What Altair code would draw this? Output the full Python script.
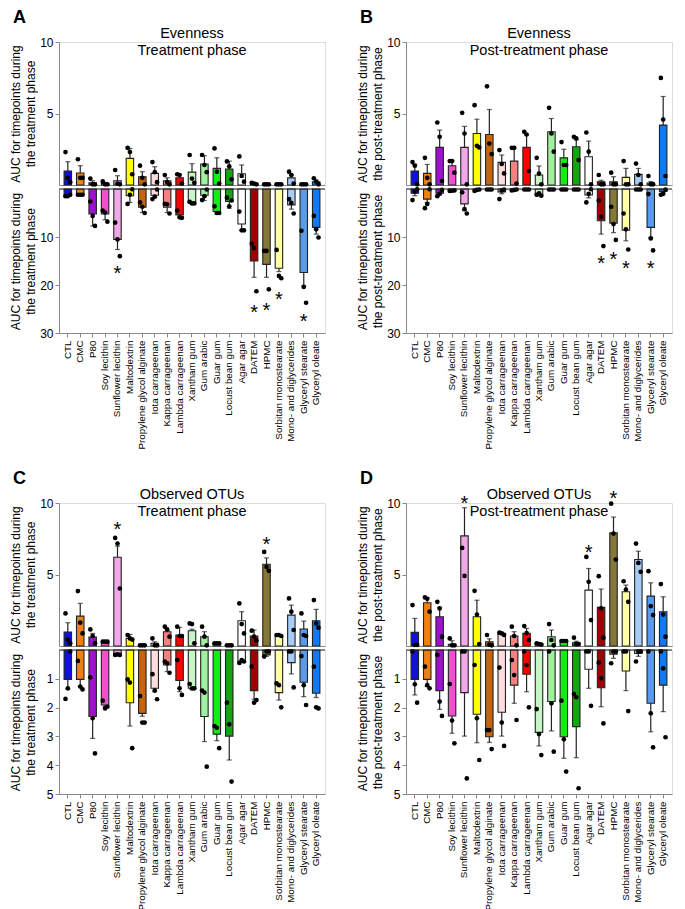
import altair as alt
import pandas as pd

CATS = ["CTL", "CMC", "P80", "Soy lecithin", "Sunflower lecithin", "Maltodextrin",
        "Propylene glycol alginate", "Iota carrageenan", "Kappa carrageenan",
        "Lambda carrageenan", "Xantham gum", "Gum arabic", "Guar gum", "Locust bean gum",
        "Agar agar", "DATEM", "HPMC", "Sorbitan monostearate", "Mono- and diglycerides",
        "Glyceryl stearate", "Glyceryl oleate"]
COLORS = ["#1010E0", "#F08010", "#A010D0", "#F050D0", "#F0A8E8", "#FFFF00", "#C86410",
          "#FCDCDC", "#F48080", "#FF0000", "#C8F5C8", "#A0F0A0", "#10F010", "#10A810",
          "#FFFFFF", "#A00000", "#857838", "#FFFFA8", "#A8CCF4", "#5A9AEA", "#1478F0"]

# ---------------- Panel A : Evenness, treatment phase
A_UP_MEAN = [0.98, 0.84, 0.15, 0.1, 0.3, 1.86, 0.58, 0.81, 0.3, 0.51, 0.9, 1.47, 1.16, 1.12, 0.79, 0.1, 0.05, 0.05, 0.5, 0.05, 0.23]
A_UP_SEM = [0.65, 0.51, 0.15, 0.08, 0.35, 0.7, 0.35, 0.47, 0.2, 0.23, 0.59, 0.58, 0.74, 0.55, 0.61, 0.03, 0.0, 0.0, 0.2, 0.0, 0.1]
A_UP_PTS = [[2.3, 0.5, 0.2], [1.8, 0.5, 0.5], [0.45, 0.05, 0.05], [0.25, 0.05, 0.05], [1.05, 0.1, 0.05],
            [2.6, 2.3, 0.75], [1.35, 0.5, 0.05], [1.6, 0.9, 0.2], [0.7, 0.2, 0.05], [0.75, 0.7, 0.1],
            [2.1, 0.45, 0.15], [2.1, 1.4, 0.9], [2.56, 0.93, 0.1], [1.65, 1.3, 0.4], [2.0, 0.63, 0.23],
            [0.15, 0.1, 0.05], [0.05, 0.05, 0.05], [0.05, 0.05, 0.05], [0.93, 0.7, 0.1], [0.05, 0.05, 0.05],
            [0.47, 0.23, 0.05]]
A_LO_MEAN = [1.4, 1.2, 5.2, 5.2, 10.5, 1.4, 3.8, 1.3, 3.8, 5.4, 2.8, 1.3, 4.7, 2.6, 7.3, 15.0, 15.7, 16.5, 3.3, 17.4, 8.0]
A_LO_SEM = [0.1, 0.05, 2.5, 1.2, 2.1, 1.4, 1.1, 0.5, 1.1, 0.45, 0.2, 1.1, 0.5, 1.4, 1.3, 3.4, 2.7, 0.7, 0.9, 2.8, 1.4]
A_LO_PTS = [[1.5, 1.5, 1.2], [1.2, 1.2, 1.2], [2.6, 5.6, 7.7], [4.5, 4.9, 6.8], [7.0, 10.5, 14.0],
            [3.1, 1.2, 0.05], [2.8, 3.7, 5.0], [2.1, 1.6, 0.1], [3.1, 3.2, 5.1], [4.5, 5.9, 6.0],
            [2.7, 3.0, 3.0], [2.3, 1.5, 0.1], [3.6, 5.0, 5.0], [1.8, 3.6, 2.4], [4.7, 8.6, 8.6],
            [11.4, 12.3, 21.3], [12.9, 12.9, 20.9], [12.7, 18.1, 18.6], [2.1, 2.9, 5.1], [8.7, 20.4, 23.7],
            [5.6, 8.4, 10.1]]
A_UP_STAR_CATS, A_UP_STAR_POS = [], []
A_LO_STAR_CATS = ["Sunflower lecithin", "DATEM", "HPMC", "Sorbitan monostearate", "Glyceryl stearate"]
A_LO_STAR_POS = [16.7, 24.8, 24.4, 22.1, 26.7]

# ---------------- Panel B : Evenness, post-treatment phase
B_UP_MEAN = [0.98, 0.81, 2.63, 1.35, 2.63, 3.6, 3.53, 1.58, 1.67, 2.63, 0.7, 3.72, 1.9, 2.67, 1.98, 0.23, 0.23, 0.53, 0.74, 0.14, 4.19]
B_UP_SEM = [0.46, 0.63, 1.21, 0.32, 1.47, 1.0, 1.75, 0.52, 0.89, 0.87, 0.63, 0.93, 0.6, 0.5, 1.09, 0.1, 0.35, 0.63, 0.42, 0.1, 2.0]
B_UP_PTS = [[1.6, 1.35, 0.05], [1.9, 0.5, 0.05], [4.37, 3.37, 0.28], [1.67, 1.67, 0.86], [5.05, 3.6, 0.05],
            [5.58, 2.74, 2.63], [6.9, 2.9, 2.16], [2.44, 1.47, 0.81], [2.6, 2.6, 0.1], [3.72, 3.53, 0.98],
            [1.9, 0.8, 0.05], [5.4, 3.6, 2.33], [3.0, 1.4, 1.4], [3.37, 3.26, 1.74], [3.67, 2.33, 0.05],
            [0.7, 0.05, 0.05], [0.86, 0.05, 0.05], [1.67, 0.05, 0.05], [1.5, 0.7, 0.05], [0.63, 0.05, 0.05],
            [7.49, 4.58, 0.63]]
B_LO_MEAN = [0.9, 2.1, 0.9, 0.35, 3.1, 0.2, 0.1, 0.6, 0.2, 0.1, 1.25, 0.1, 0.1, 0.1, 1.25, 6.6, 7.1, 8.6, 0.15, 8.0, 0.5]
B_LO_SEM = [0.5, 0.8, 0.3, 0.1, 1.4, 0.05, 0.05, 0.4, 0.1, 0.05, 0.2, 0.05, 0.05, 0.05, 0.6, 2.8, 2.0, 2.2, 0.05, 2.1, 0.3]
B_LO_PTS = [[2.3, 0.5, 0.05], [4.0, 3.1, 0.05], [1.5, 1.0, 0.2], [0.4, 0.35, 0.3], [0.7, 4.2, 5.1],
            [0.4, 0.2, 0.1], [0.1, 0.1, 0.1], [2.1, 0.3, 0.1], [0.3, 0.2, 0.1], [0.1, 0.1, 0.1],
            [1.2, 0.9, 1.4], [0.1, 0.1, 0.1], [0.1, 0.1, 0.1], [0.1, 0.1, 0.1], [2.8, 1.0, 0.05],
            [2.4, 5.8, 11.9], [3.7, 7.3, 10.6], [5.1, 8.4, 12.6], [0.1, 0.1, 0.1], [1.05, 10.3, 12.8],
            [1.2, 1.0, 0.1]]
B_UP_STAR_CATS, B_UP_STAR_POS = [], []
B_LO_STAR_CATS = ["DATEM", "HPMC", "Sorbitan monostearate", "Glyceryl stearate"]
B_LO_STAR_POS = [14.5, 13.8, 15.6, 15.6]

# ---------------- Panel C : Observed OTUs, treatment phase
C_UP_MEAN = [0.98, 2.09, 0.63, 0.3, 6.21, 0.53, 0.05, 0.19, 1.0, 0.77, 1.07, 0.65, 0.19, 0.05, 1.77, 0.7, 5.72, 0.7, 2.16, 1.19, 1.77]
C_UP_SEM = [0.65, 0.89, 0.25, 0.02, 0.77, 0.28, 0.02, 0.1, 0.1, 0.53, 0.1, 0.35, 0.02, 0.02, 0.63, 0.42, 0.44, 0.05, 0.7, 0.55, 0.79]
C_UP_PTS = [[2.28, 0.45, 0.2], [3.84, 1.63, 0.88], [1.16, 0.7, 0.2], [0.3, 0.3, 0.3], [7.56, 7.16, 4.02],
            [0.77, 0.53, 0.45], [0.05, 0.05, 0.05], [0.53, 0.05, 0.05], [1.35, 1.16, 0.65], [1.35, 0.7, 0.7],
            [1.58, 1.53, 0.19], [1.35, 0.65, 0.05], [0.19, 0.19, 0.19], [0.05, 0.05, 0.05], [2.98, 1.53, 0.88],
            [1.07, 0.65, 0.4], [6.58, 5.53, 5.26], [0.77, 0.77, 0.7], [3.33, 2.4, 1.12], [2.28, 0.77, 0.7],
            [3.21, 1.58, 1.28]]
C_LO_MEAN = [1.02, 1.02, 2.31, 1.91, 0.12, 1.83, 2.2, 1.33, 0.52, 1.06, 1.33, 2.31, 2.92, 2.99, 0.4, 1.41, 0.17, 1.48, 0.44, 1.12, 1.5]
C_LO_SEM = [0.35, 0.25, 0.76, 0.05, 0.03, 0.81, 0.1, 0.12, 0.23, 0.39, 0.05, 0.87, 0.23, 0.83, 0.03, 0.3, 0.05, 0.26, 0.39, 0.5, 0.15]
C_LO_PTS = [[1.7, 1.33, 0.05], [0.38, 1.27, 1.37], [0.95, 2.37, 3.59], [1.76, 2.03, 1.97], [0.17, 0.15, 0.17],
            [1.02, 1.13, 3.41], [1.6, 2.52, 2.52], [0.84, 1.41, 1.71], [0.4, 0.46, 0.79], [0.35, 1.33, 1.56],
            [1.18, 1.33, 1.33], [1.41, 1.48, 4.05], [2.64, 2.7, 3.41], [1.83, 2.58, 4.57], [0.45, 0.35, 0.4],
            [0.58, 1.83, 1.74], [0.23, 0.05, 0.05], [1.16, 1.22, 1.99], [0.05, 0.05, 1.3], [0.21, 1.22, 1.91],
            [0.58, 1.99, 2.03]]
C_UP_STAR_CATS = ["Sunflower lecithin", "HPMC"]
C_UP_STAR_POS = [8.44, 7.44]
C_LO_STAR_CATS, C_LO_STAR_POS = [], []

# ---------------- Panel D : Observed OTUs, post-treatment phase
D_UP_MEAN = [0.95, 3.02, 2.05, 0.12, 7.7, 2.05, 0.3, 0.88, 0.7, 0.88, 0.14, 0.65, 0.35, 0.23, 3.91, 2.7, 7.91, 3.79, 6.05, 3.49, 2.4]
D_UP_SEM = [0.98, 0.35, 0.65, 0.25, 1.97, 1.15, 0.2, 0.05, 0.3, 0.35, 0.05, 0.47, 0.05, 0.1, 1.51, 1.28, 1.11, 0.47, 0.58, 0.93, 1.04]
D_UP_PTS = [[2.86, 0.07, 0.07], [3.4, 3.3, 2.4], [3.09, 2.63, 0.65], [0.53, 0.05, 0.05], [6.86, 4.9],
            [3.86, 2.2, 0.14], [0.77, 0.1, 0.05], [0.93, 0.88, 0.77], [1.35, 0.7, 0.05], [1.4, 0.9, 0.42],
            [0.19, 0.14, 0.1], [1.53, 0.42, 0.05], [0.35, 0.35, 0.35], [0.58, 0.14, 0.14], [6.23, 4.49, 1.81],
            [4.88, 2.64, 0.58], [9.95, 7.86, 6.05], [4.53, 3.95, 3.09], [7.16, 5.81, 5.19], [5.23, 2.79, 2.16],
            [4.33, 2.2, 0.65]]
D_LO_MEAN = [1.02, 1.02, 1.41, 2.29, 1.48, 2.23, 3.01, 2.16, 1.22, 0.84, 2.86, 1.79, 3.01, 2.66, 0.67, 1.31, 0.15, 0.73, 0.12, 1.85, 1.22]
D_LO_SEM = [0.54, 0.25, 0.65, 0.6, 1.51, 0.99, 0.2, 0.83, 0.63, 0.61, 0.47, 1.02, 0.75, 1.08, 0.66, 0.66, 0.14, 0.68, 0.1, 0.99, 0.92]
D_LO_PTS = [[0.05, 1.19, 1.83], [0.58, 1.22, 1.33], [0.17, 1.79, 2.29], [1.18, 2.45, 3.24], [0.05, 0.05, 4.46],
            [0.52, 2.37, 3.82], [2.78, 2.78, 3.44], [0.61, 2.52, 3.33], [0.35, 0.87, 2.43], [0.05, 0.52, 1.99],
            [2.05, 2.92, 3.65], [0.05, 1.85, 3.53], [1.76, 3.1, 4.22], [1.53, 1.64, 4.8], [0.05, 0.05, 1.94],
            [0.44, 0.98, 2.55], [0.46, 0.05, 0.05], [0.05, 0.05, 2.12], [0.4, 0.05, 0.05], [0.05, 2.2, 3.38],
            [0.05, 0.64, 3.03]]
D_UP_STAR_CATS = ["Sunflower lecithin", "Agar agar", "HPMC"]
D_UP_STAR_POS = [10.3, 6.88, 10.65]
D_LO_STAR_CATS, D_LO_STAR_POS = [], []

W = 266
H_UP = 143
H_LO = 144
FONT = "Liberation Sans"
INK = "#222222"


def half(mean, sem, pts, star_cats, star_pos, dom, ticks, ytitle, lower,
         heading=None, letter=None):
    bars = pd.DataFrame({"cat": CATS, "mean": mean,
                         "err": [m + s for m, s in zip(mean, sem)]})
    pdf = pd.DataFrame([{"cat": c, "val": v, "rep": i}
                        for c, vs in zip(CATS, pts) for i, v in enumerate(vs)])

    if lower:
        xaxis = alt.Axis(title=None, labelAngle=-90, labelFontSize=9.8, tickSize=4,
                         labelPadding=3, domain=True, ticks=True, grid=False)
    else:
        xaxis = alt.Axis(title=None, labels=False, ticks=False, domain=True, grid=False)
    xscale = alt.Scale(type="band", domain=CATS, paddingInner=0.4, paddingOuter=0.41)

    def X():
        return alt.X("cat:N", sort=CATS, scale=xscale, axis=xaxis)

    yscale = alt.Scale(domain=dom, reverse=lower, nice=False, zero=True)
    yaxis = alt.Axis(values=ticks, title=ytitle, tickSize=4, labelPadding=2, grid=False,
                     labelFontSize=12, titleFontSize=12, titleFontWeight="normal",
                     titleLineHeight=15, titlePadding=2, minExtent=20, maxExtent=20)

    def Y(f):
        return alt.Y(f + ":Q", scale=yscale, axis=yaxis)

    color = alt.Color("cat:N", scale=alt.Scale(domain=CATS, range=COLORS), legend=None)

    layers = []
    layers.append(alt.Chart(bars).mark_rule(color=INK, strokeWidth=1.2).encode(
        x=X(), y=Y("mean"), y2="err"))
    layers.append(alt.Chart(bars).mark_tick(color=INK, thickness=1.2, size=5).encode(
        x=X(), y=Y("err")))
    layers.append(alt.Chart(bars).mark_bar(stroke=INK, strokeWidth=1.1).encode(
        x=X(), y=Y("mean"), color=color))
    layers.append(alt.Chart(pdf).mark_circle(size=22, color="black", opacity=1).encode(
        x=X(), xOffset=alt.XOffset("rep:N", scale=alt.Scale(type="band", paddingOuter=0.1, paddingInner=0)),
        y=Y("val")))
    if star_cats:
        sdf = pd.DataFrame({"cat": star_cats, "pos": star_pos})
        layers.append(alt.Chart(sdf).mark_text(text="*", fontSize=20, font=FONT,
                                               baseline="middle", dy=5, color="black").encode(
            x=X(), y=Y("pos")))
    if lower:
        zdf = pd.DataFrame({"z": [0]})
        layers.append(alt.Chart(zdf).mark_rule(color=INK, strokeWidth=1.2).encode(y=Y("z")))
    if heading is not None:
        for t, yy in zip(heading, [-4, 13]):
            layers.append(alt.Chart(pd.DataFrame({"t": [t]})).mark_text(
                fontSize=14.5, font=FONT, align="center", baseline="alphabetic",
                color="black").encode(text="t:N", x=alt.value(W / 2), y=alt.value(yy)))
    if letter is not None:
        layers.append(alt.Chart(pd.DataFrame({"t": [letter]})).mark_text(
            fontSize=18, font=FONT, fontWeight="bold", align="left", baseline="alphabetic",
            color="black").encode(text="t:N", x=alt.value(-46), y=alt.value(-19)))

    return alt.layer(*layers).properties(width=W, height=H_LO if lower else H_UP)


def panel(letter, heading, ytitle, up, lo, lo_dom, lo_ticks):
    upper = half(up[0], up[1], up[2], up[3], up[4], [0, 10], [5, 10], ytitle, False,
                 heading=heading, letter=letter)
    lower = half(lo[0], lo[1], lo[2], lo[3], lo[4], lo_dom, lo_ticks, ytitle, True)
    return alt.vconcat(upper, lower, spacing=4, bounds="flush")


T1 = ["AUC for timepoints during", "the treatment phase"]
T2 = ["AUC for timepoints during", "the post-treatment phase"]

pA = panel("A", ["Evenness", "Treatment phase"], T1,
           (A_UP_MEAN, A_UP_SEM, A_UP_PTS, A_UP_STAR_CATS, A_UP_STAR_POS),
           (A_LO_MEAN, A_LO_SEM, A_LO_PTS, A_LO_STAR_CATS, A_LO_STAR_POS), [0, 30], [10, 20, 30])
pB = panel("B", ["Evenness", "Post-treatment phase"], T2,
           (B_UP_MEAN, B_UP_SEM, B_UP_PTS, B_UP_STAR_CATS, B_UP_STAR_POS),
           (B_LO_MEAN, B_LO_SEM, B_LO_PTS, B_LO_STAR_CATS, B_LO_STAR_POS), [0, 30], [10, 20, 30])
pC = panel("C", ["Observed OTUs", "Treatment phase"], T1,
           (C_UP_MEAN, C_UP_SEM, C_UP_PTS, C_UP_STAR_CATS, C_UP_STAR_POS),
           (C_LO_MEAN, C_LO_SEM, C_LO_PTS, C_LO_STAR_CATS, C_LO_STAR_POS), [0, 5], [1, 2, 3, 4, 5])
pD = panel("D", ["Observed OTUs", "Post-treatment phase"], T2,
           (D_UP_MEAN, D_UP_SEM, D_UP_PTS, D_UP_STAR_CATS, D_UP_STAR_POS),
           (D_LO_MEAN, D_LO_SEM, D_LO_PTS, D_LO_STAR_CATS, D_LO_STAR_POS), [0, 5], [1, 2, 3, 4, 5])

chart = alt.vconcat(
    alt.hconcat(pA, pB, spacing=28),
    alt.hconcat(pC, pD, spacing=28),
    spacing=19,
).properties(padding=0).configure_axis(
    domainColor=INK, tickColor=INK, domainWidth=1.2, tickWidth=1.2,
    labelColor="black", titleColor="black", labelFont=FONT, titleFont=FONT, grid=False,
).configure_view(stroke=None).configure(font=FONT, background="white")

chart.save("out.html", embed_options={"renderer": "svg", "actions": False})
